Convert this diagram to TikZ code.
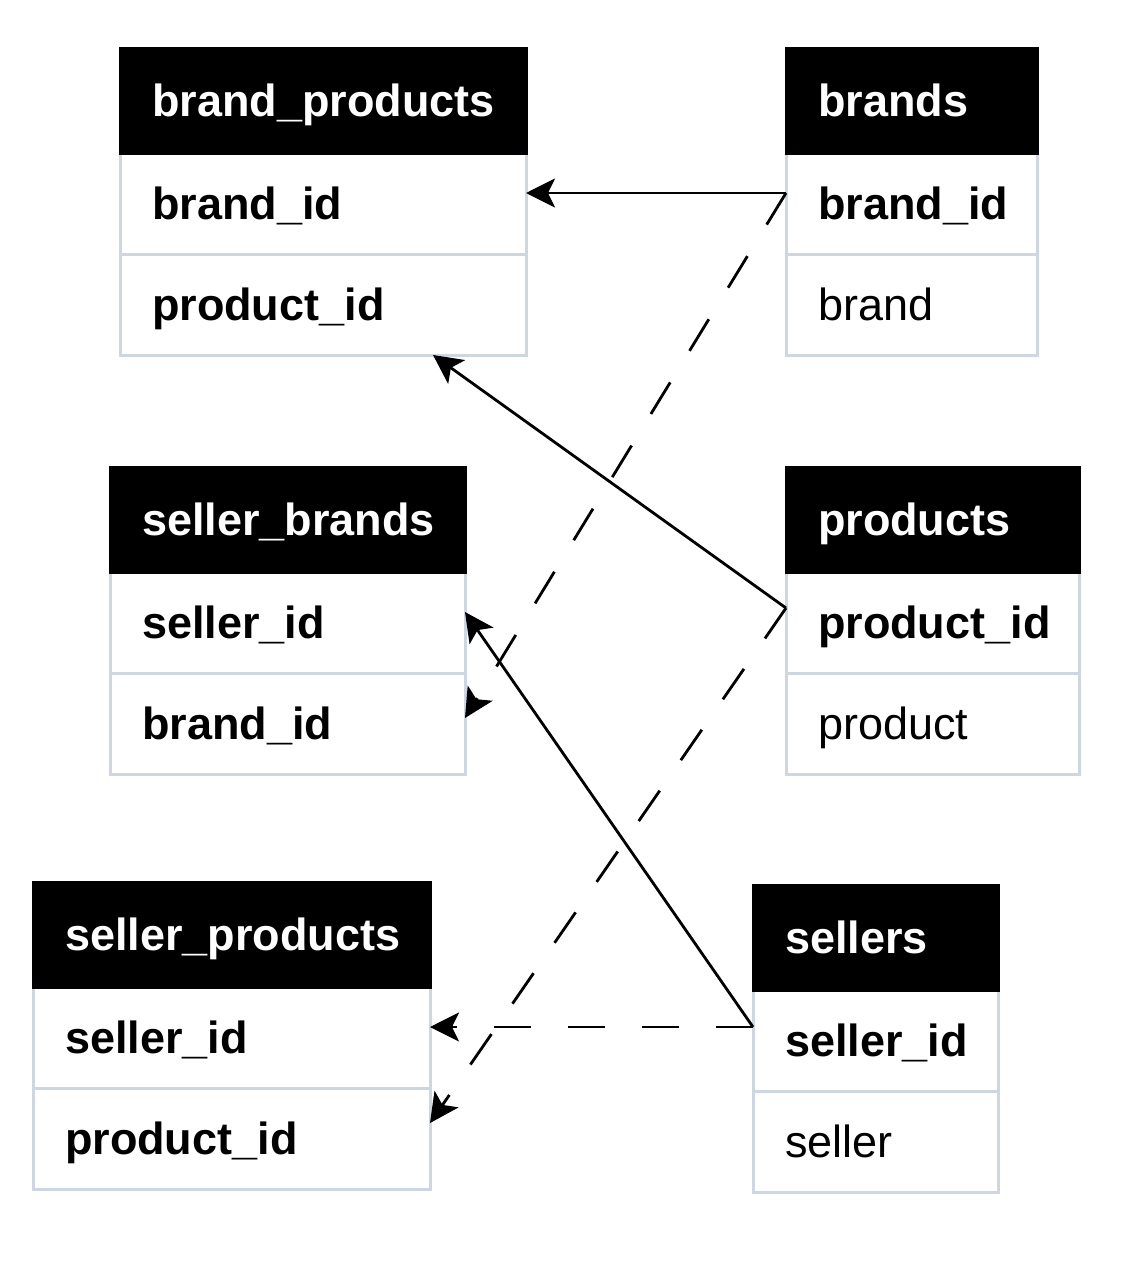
\documentclass[tikz,border=0pt]{standalone}
\usepackage{fontspec}
\setmainfont{Liberation Sans}
\usetikzlibrary{positioning,arrows.meta}
\definecolor{rowline}{RGB}{206,214,227}
\newcommand\tabfont{\fontsize{45}{53}\selectfont\hyphenpenalty=10000\relax}

\begin{document}
\begin{tikzpicture}[x=1pt,y=-1pt,>={Stealth[length=29pt,width=29pt,inset=7pt]},
  tbl/.style={rectangle,anchor=north west,outer sep=0pt,line width=3pt,inner xsep=32pt,
    text width=#1,align=left,text height=32pt,text depth=0pt},
  head/.style={tbl=#1,draw=black,fill=black,text=white,minimum height=105pt,font=\tabfont\bfseries},
  field/.style={tbl=#1,draw=rowline,fill=white,minimum height=101pt,font=\tabfont\bfseries},
  attr/.style={field=#1,font=\tabfont},
  link/.style={->,line width=2.8pt},
  ref/.style={link,dash pattern=on 37pt off 37pt}]

\useasboundingbox (0,0) rectangle (1122,1280);

\node [field=342pt] (bp_brand_id) at (120,153) {brand\_id};
\node [field=342pt, below=0pt of bp_brand_id] (bp_product_id) {product\_id};
\node [head=342pt] (bp_head) at (120,48) {brand\_products};

\node [field=187pt] (br_brand_id) at (786,153) {brand\_id};
\node [attr=187pt, below=0pt of br_brand_id] (br_brand) {brand};
\node [head=187pt] (br_head) at (786,48) {brands};

\node [field=291pt] (sb_seller_id) at (110,572) {seller\_id};
\node [field=291pt, below=0pt of sb_seller_id] (sb_brand_id) {brand\_id};
\node [head=291pt] (sb_head) at (110,467) {seller\_brands};

\node [field=229pt] (pr_product_id) at (786,572) {product\_id};
\node [attr=229pt, below=0pt of pr_product_id] (pr_product) {product};
\node [head=229pt] (pr_head) at (786,467) {products};

\node [field=333pt] (sp_seller_id) at (33,987) {seller\_id};
\node [field=333pt, below=0pt of sp_seller_id] (sp_product_id) {product\_id};
\node [head=333pt] (sp_head) at (33,882) {seller\_products};

\node [field=181pt] (se_seller_id) at (753,990) {seller\_id};
\node [attr=181pt, below=0pt of se_seller_id] (se_seller) {seller};
\node [head=181pt] (se_head) at (753,885) {sellers};

\draw [link] ([yshift=10.5pt]br_brand_id.west) -- ([yshift=10.5pt]bp_brand_id.east);
\draw [ref] ([yshift=10.5pt]br_brand_id.west) -- ([yshift=5.5pt]sb_brand_id.east);

\draw [link] ([yshift=14.5pt]pr_product_id.west) -- ([xshift=110pt]bp_product_id.south);
\draw [ref] ([yshift=14.5pt]pr_product_id.west) -- ([yshift=15.5pt]sp_product_id.east);

\draw [link] ([yshift=13.5pt]se_seller_id.west) -- ([yshift=10.5pt]sb_seller_id.east);
\draw [ref] ([yshift=13.5pt]se_seller_id.west) -- ([yshift=10.5pt]sp_seller_id.east);

\end{tikzpicture}
\end{document}
